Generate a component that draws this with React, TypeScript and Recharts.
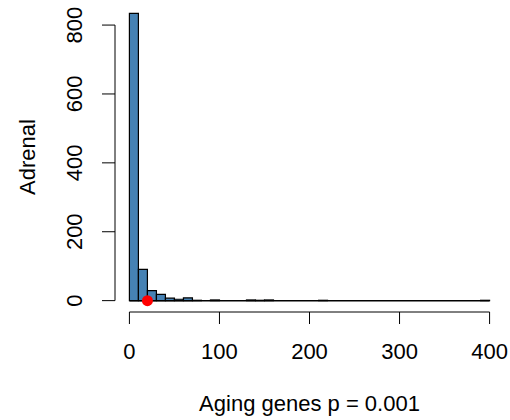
import { Bar, ComposedChart, Label, ReferenceDot, ReferenceLine, XAxis, YAxis } from "recharts";

// histogram bins (width 10) from 0 to 400
const binMids = [
  5, 15, 25, 35, 45, 55, 65, 75, 85, 95,
  105, 115, 125, 135, 145, 155, 165, 175, 185, 195,
  205, 215, 225, 235, 245, 255, 265, 275, 285, 295,
  305, 315, 325, 335, 345, 355, 365, 375, 385, 395,
];
const counts = [
  834, 91, 29, 18, 7, 4, 8, 1, 0, 2,
  0, 0, 0, 2, 1, 2, 0, 0, 0, 0,
  0, 1, 0, 0, 0, 0, 0, 0, 0, 0,
  0, 0, 0, 0, 0, 0, 0, 0, 0, 1,
];
const xTicks = [0, 100, 200, 300, 400];
const yTicks = [0, 200, 400, 600, 800];
// observed value for the aging genes
const observedX = 20;

const data = binMids.map((mid, i) => ({ mid, count: counts[i] }));

const FONT = "'Liberation Sans', Arial, Helvetica, sans-serif";

function XTick({ x, y, payload }: any) {
  return (
    <text x={x} y={y + 33} textAnchor="middle" fontSize={22} fontFamily={FONT} fill="#000">
      {payload.value}
    </text>
  );
}

function YTick({ x, y, payload }: any) {
  return (
    <text
      transform={`translate(${x - 18},${y}) rotate(-90)`}
      textAnchor="middle"
      fontSize={22}
      fontFamily={FONT}
      fill="#000"
    >
      {payload.value}
    </text>
  );
}

export default function App() {
  return (
    <div style={{ position: "absolute", left: 0, top: 0, background: "#fff" }}>
      <ComposedChart
        width={510}
        height={420}
        data={data}
        margin={{ top: 2, right: 6, bottom: 0, left: 0 }}
        barCategoryGap={0}
        barGap={0}
      >
        <XAxis
          dataKey="mid"
          type="number"
          domain={[-16, 416]}
          allowDataOverflow
          ticks={xTicks}
          axisLine={false}
          tickLine={{ stroke: "#000", strokeWidth: 1 }}
          tickSize={12}
          tick={XTick}
          height={108}
        >
          <Label
            content={({ viewBox }: any) => (
              <text
                x={viewBox.x + viewBox.width / 2}
                y={viewBox.y + 99}
                textAnchor="middle"
                fontSize={22}
                fontFamily={FONT}
                fill="#000"
              >
                Aging genes p = 0.001
              </text>
            )}
          />
        </XAxis>
        <YAxis
          type="number"
          domain={[-33, 867]}
          allowDataOverflow
          ticks={yTicks}
          axisLine={false}
          tickLine={{ stroke: "#000", strokeWidth: 1 }}
          tickSize={13}
          tick={YTick}
          width={115}
        >
          <Label
            content={({ viewBox }: any) => (
              <text
                transform={`translate(${viewBox.x + 35},${viewBox.y + viewBox.height / 2}) rotate(-90)`}
                textAnchor="middle"
                fontSize={22}
                fontFamily={FONT}
                fill="#000"
              >
                Adrenal
              </text>
            )}
          />
        </YAxis>
        <ReferenceLine segment={[{ x: -16, y: 0 }, { x: -16, y: 800 }]} stroke="#000" strokeWidth={1} />
        <ReferenceLine segment={[{ x: 0, y: -33 }, { x: 400, y: -33 }]} stroke="#000" strokeWidth={1} />
        <ReferenceLine segment={[{ x: 0, y: 0 }, { x: 400, y: 0 }]} stroke="#000" strokeWidth={1.5} />
        <Bar
          dataKey="count"
          fill="#4682B4"
          stroke="#000"
          strokeWidth={1.2}
          isAnimationActive={false}
        />
        <ReferenceDot x={observedX} y={0} r={5.5} fill="#ff0000" stroke="none" />
      </ComposedChart>
    </div>
  );
}
